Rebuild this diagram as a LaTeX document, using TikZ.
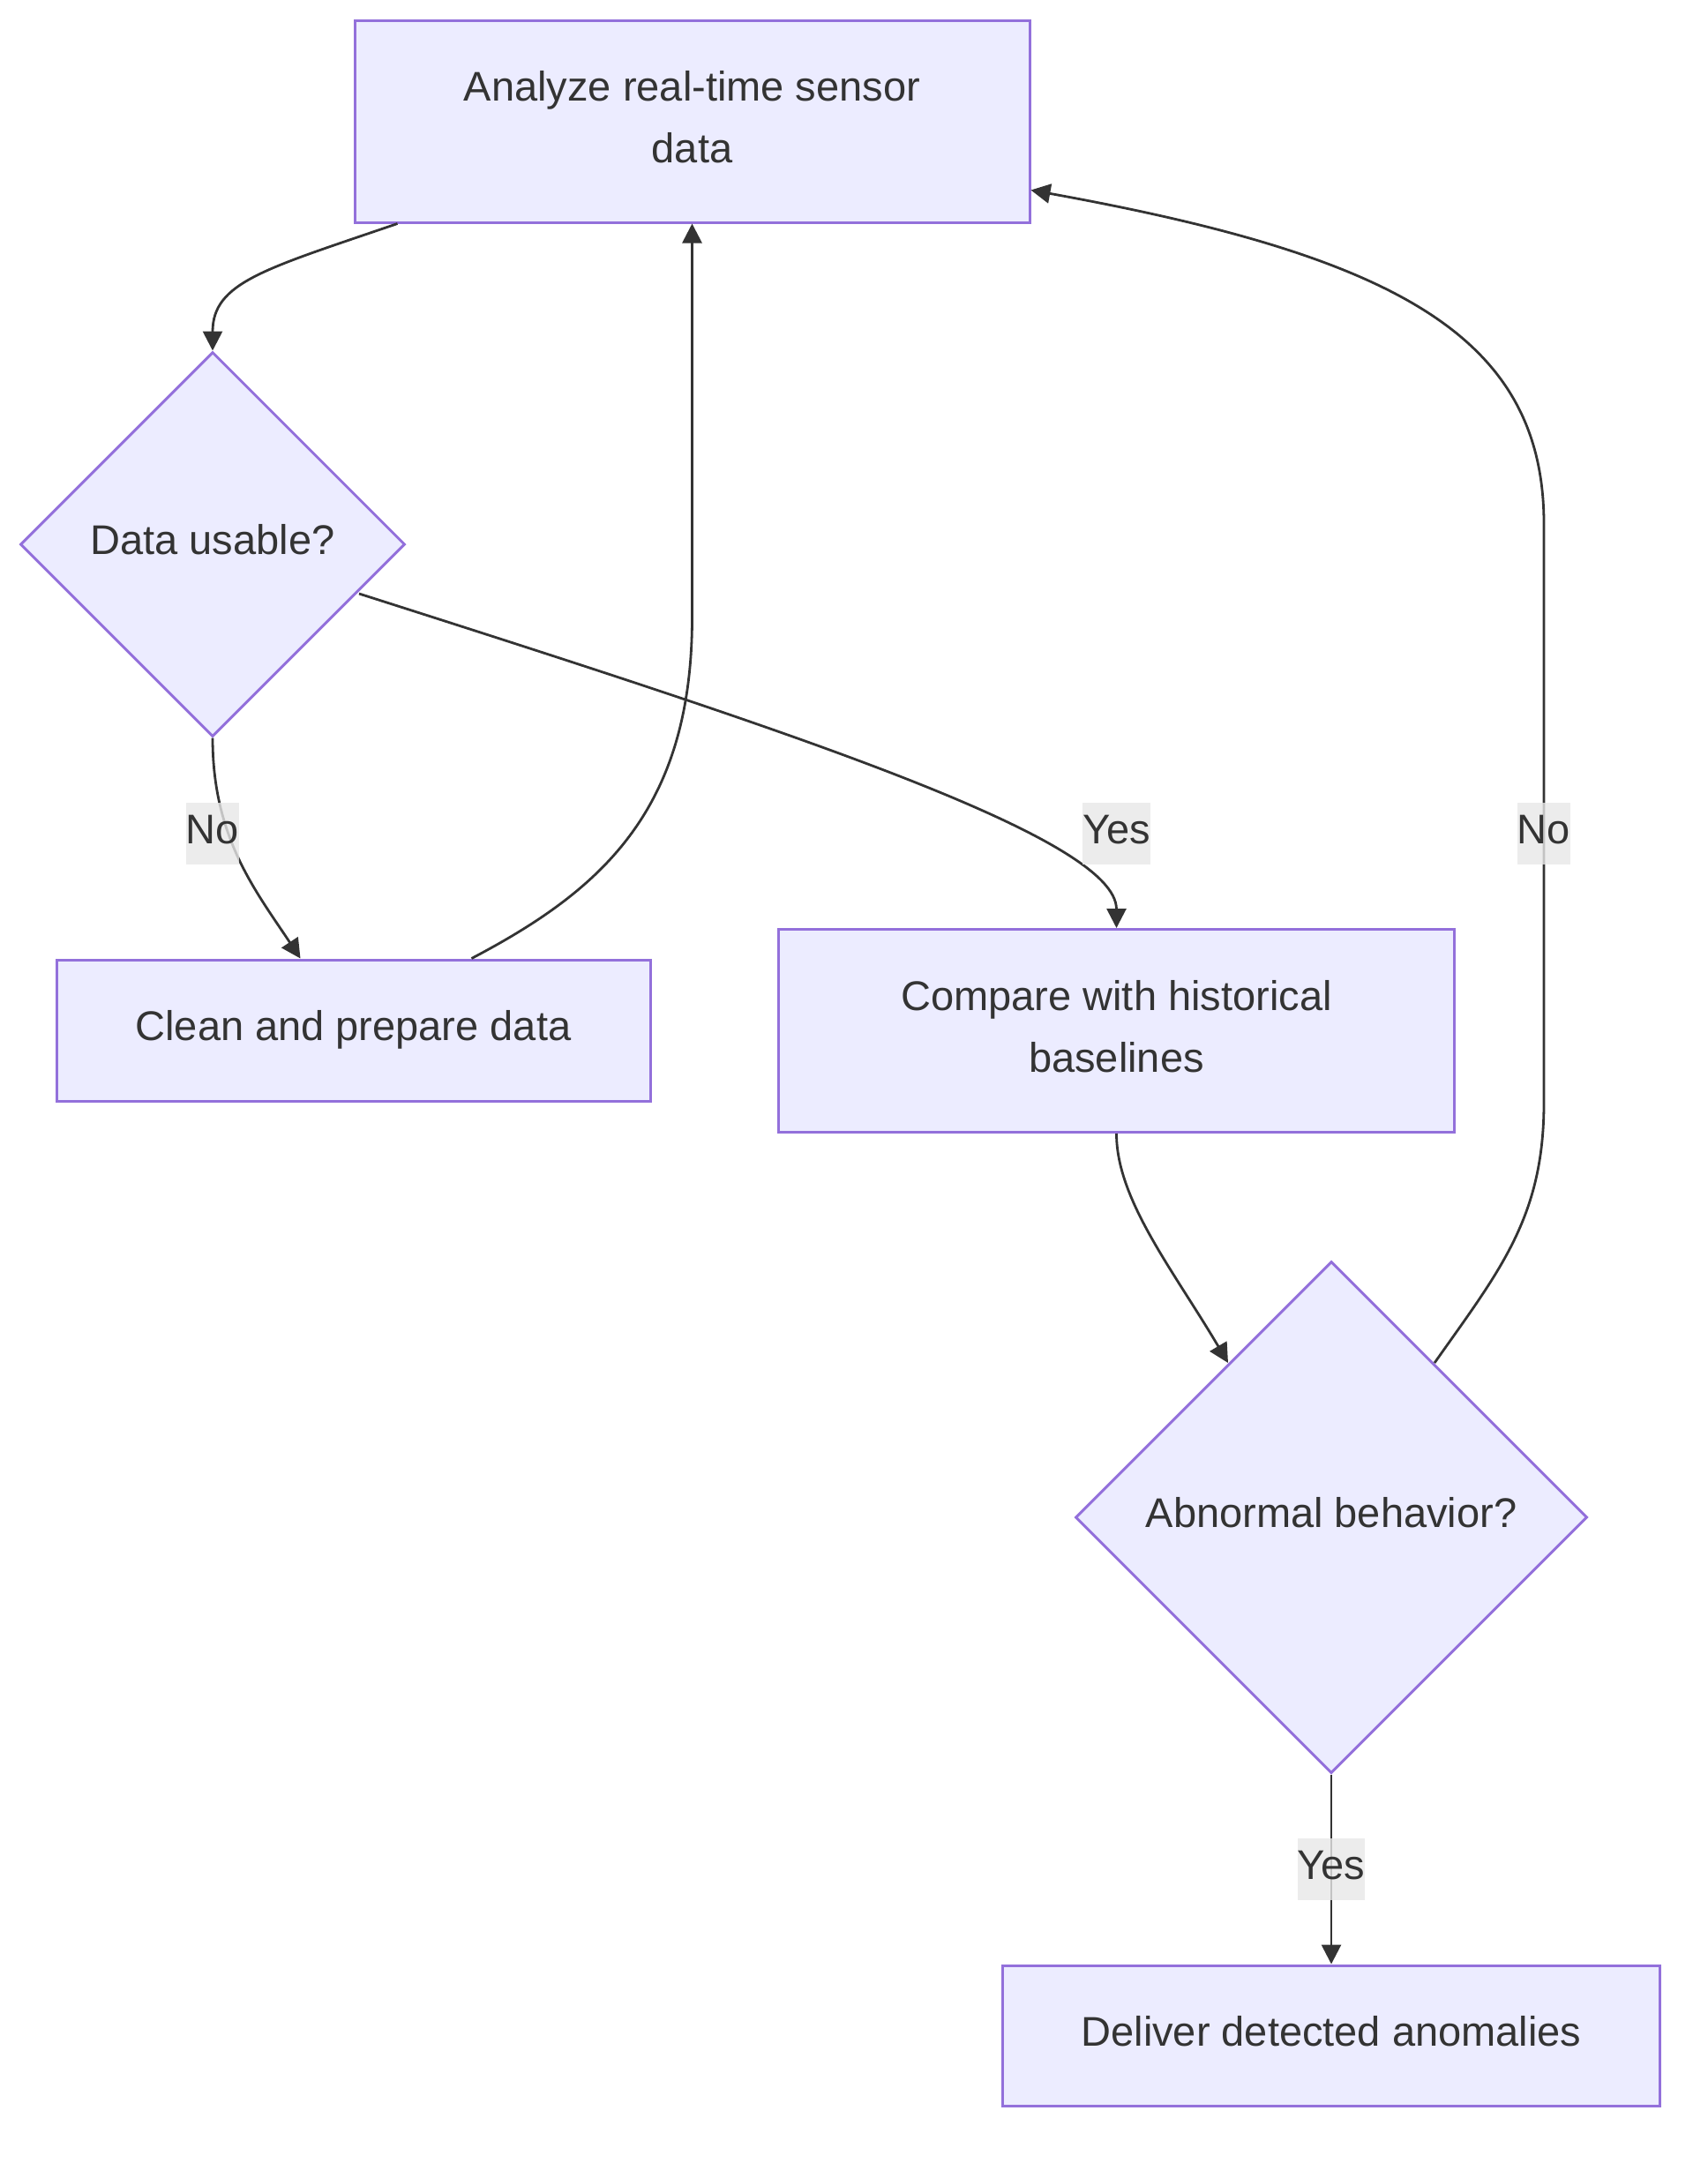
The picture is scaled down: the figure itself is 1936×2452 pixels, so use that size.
\documentclass[tikz,border=0pt]{standalone}
\usepackage{fontspec}
\setmainfont{Liberation Sans}
\usetikzlibrary{shapes.geometric,arrows.meta,calc}
\definecolor{nodefill}{HTML}{ECECFF}
\definecolor{nodeline}{HTML}{9370DB}
\definecolor{txt}{HTML}{333333}
\definecolor{lblbg}{HTML}{E8E8E8}
\begin{document}
\begin{tikzpicture}[x=0.5pt,y=-0.5pt,
  font=\fontsize{23.5}{35}\selectfont, text=txt,
  oneline/.style={text height=17pt, text depth=5.5pt},
  twoline/.style={text height=52pt, text depth=5.5pt},
  box/.style={draw=nodeline, fill=nodefill, line width=1.5pt, inner sep=0pt, align=center},
  decision/.style={diamond, aspect=1, draw=nodeline, fill=nodefill, line width=1.5pt, inner sep=0pt, oneline},
  arr/.style={draw=txt, line width=1.4pt, -{Triangle[length=11pt,width=11pt]}},
  lbl/.style={fill=lblbg, fill opacity=0.8, text opacity=1, inner sep=0pt, minimum height=35pt, oneline}]
\useasboundingbox[fill=white] (0,0) rectangle (1936,2452);

\node[box, twoline, minimum width=382.5pt, minimum height=114.5pt] (A) at (784.5,137.5) {Analyze real-time sensor\\data};
\node[decision, minimum width=218pt, minimum height=218pt] (B) at (241,617) {Data usable?};
\node[box, oneline, minimum width=336.5pt, minimum height=80pt] (C) at (400.5,1168) {Clean and prepare data};
\node[box, twoline, minimum width=383pt, minimum height=115pt] (D) at (1265.5,1168.5) {Compare with historical\\baselines};
\node[decision, minimum width=290pt, minimum height=290pt] (E) at (1509,1720) {Abnormal behavior?};
\node[box, oneline, minimum width=372.5pt, minimum height=79.5pt] (F) at (1509,2307.5) {Deliver detected anomalies};

\draw[arr] ($(A.south west)+(50,0)$) .. controls (300,305) and (241,320) .. (B.north);
\draw[arr] (B.south) .. controls (241,950) and (290,1010) .. ($(C.north west)+(278,0)$);
\draw[arr] ($(B.center)+(166,56)$) .. controls (900,830) and (1265.5,950) .. (D.north);
\draw[arr] ($(C.north west)+(472,0)$) .. controls (680,1010) and (784.5,920) .. (784.5,700) -- (A.south);
\draw[arr] (D.south) .. controls (1265.5,1360) and (1330,1440) .. ($(E.center)+(-117,-175)$);
\draw[arr] ($(E.center)+(117,-175)$) .. controls (1700,1440) and (1750,1380) .. (1750,1250) -- (1750,594) .. controls (1750,380) and (1580,290) .. ($(A.south east)+(0,-38)$);
\draw[arr] (E.south) -- (F.north);

\node[lbl] (l1) at (241,945) {No};
\node[lbl] (l2) at (1265.5,945) {Yes};
\node[lbl] (l3) at (1750,945) {No};
\node[lbl] (l4) at (1509,2119) {Yes};
\end{tikzpicture}
\end{document}
